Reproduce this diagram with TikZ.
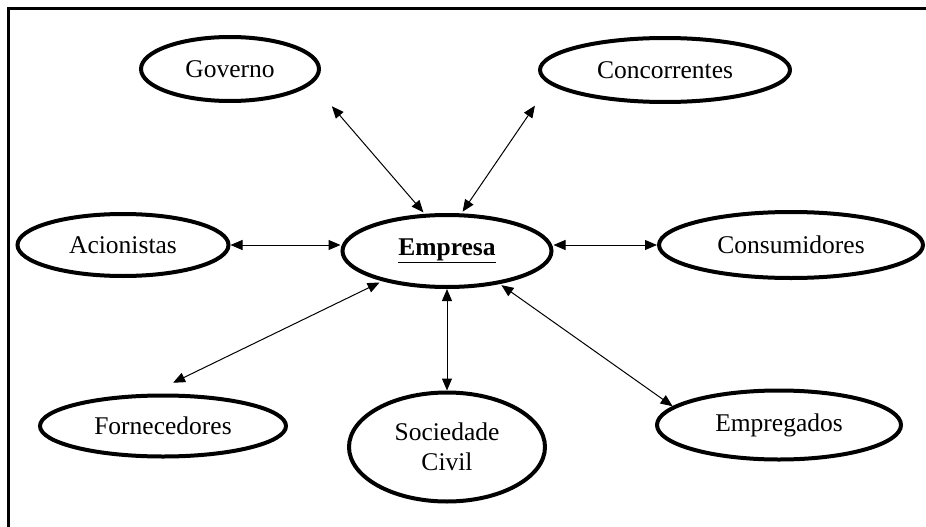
\documentclass[tikz,border=0pt]{standalone}
\usepackage{fontspec}
\setmainfont{Liberation Serif}
\usetikzlibrary{arrows.meta,shapes.geometric,calc}
\begin{document}
\begin{tikzpicture}[x=1pt,y=-1pt,
  ell/.style={ellipse,draw,line width=4pt,inner sep=0pt,font=\fontsize{25.5}{30}\selectfont,align=center},
  link/.style={line width=1pt,{Triangle[length=12pt,width=10pt]}-{Triangle[length=12pt,width=10pt]}},
  frameline/.style={line width=3.3pt}]
\useasboundingbox (0,0) rectangle (926,527);
\draw[frameline] (8.5,527) -- (8.5,8.5) -- (926,8.5);

\node[ell,minimum width=178pt,minimum height=64pt] (gov) at (230,69) {Governo};
\node[ell,minimum width=250pt,minimum height=64pt] (con) at (665,70) {Concorrentes};
\node[ell,minimum width=211pt,minimum height=62pt] (aci) at (123,245) {Acionistas};
\node[ell,minimum width=209pt,minimum height=72pt] (emp) at (447,251) {\underline{\textbf{Empresa}}};
\node[ell,minimum width=264pt,minimum height=66pt] (cons) at (791,245) {Consumidores};
\node[ell,minimum width=246pt,minimum height=61pt] (forn) at (163,426) {Fornecedores};
\node[ell,minimum width=196pt,minimum height=109pt] (soc) at (447,447) {Sociedade\\Civil};
\node[ell,minimum width=244pt,minimum height=69pt] (empg) at (779,425) {Empregados};

\draw[link, shorten <=30pt, shorten >=2pt] (gov.-10) -- (emp.121);
\draw[link, shorten <=26pt, shorten >=2pt] (con.187.5) -- (emp.69);
\draw[link] (aci.east) -- (aci.east -| emp.west);
\draw[link] (cons.west -| emp.east) -- (cons.west);
\draw[link, shorten <=3pt, shorten >=25pt] (emp.205) -- (forn.111.5);
\draw[link] (emp.south) -- (soc.north);
\draw[link, shorten <=2pt] (emp.-32) -- (empg.170);
\end{tikzpicture}
\end{document}
